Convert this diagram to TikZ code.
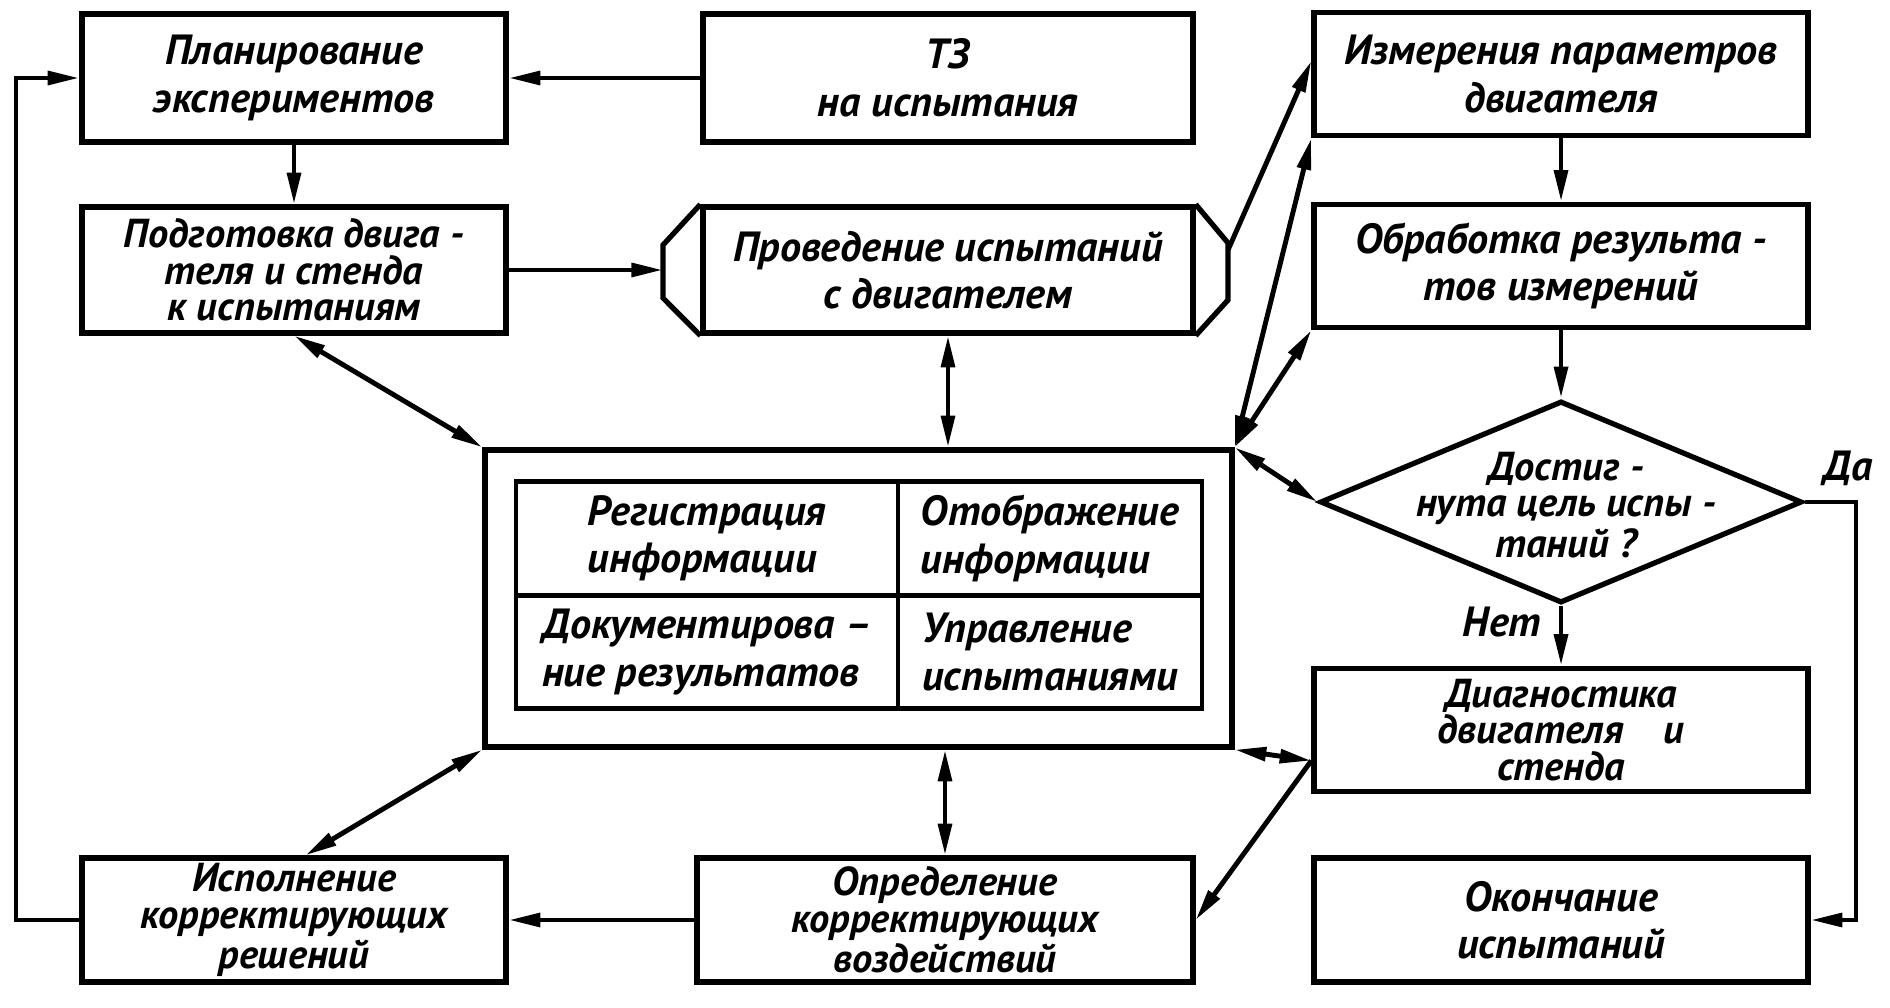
\documentclass[tikz,border=0pt]{standalone}
\usepackage{fontspec}
\setmainfont{PT Sans}
\usetikzlibrary{arrows.meta,shapes.geometric}

\begin{document}
\begin{tikzpicture}[x=0.1mm,y=-0.1mm,
  >={Triangle[length=9pt,width=3.8pt]},
  txt/.style={font=\fontsize{12}{13.5}\selectfont\bfseries\itshape,align=center,inner sep=0pt},
  tight/.style={font=\fontsize{11.5}{10.4}\selectfont\bfseries\itshape},
  blk/.style={txt,draw,line width=1.5pt,minimum width=#1},
  blk/.default=42.4mm,
  cell/.style={txt,draw,line width=1.3pt,align=left,minimum height=11.35mm},
  arr/.style={line width=1.4pt,->},
  darr/.style={line width=1.4pt,<->}]
  \useasboundingbox (0,0) rectangle (1890,1007);

  \node[blk,minimum height=12.8mm] (plan) at (294,78) {Планирование\\экспериментов};
  \node[blk=49mm,minimum height=12.8mm] (tz) at (948,78) {ТЗ\\на испытания};
  \node[blk=49.4mm,minimum height=12.3mm] (izm) at (1561,74) {Измерения параметров\\двигателя};

  \node[blk,tight,minimum height=12.6mm] (podg) at (294,270) {Подготовка двига -\\теля и стенда\\к испытаниям};
  \node[blk=49mm,minimum height=12.6mm] (prov) at (948,270) {Проведение испытаний\\с двигателем};
  \draw[line width=1.5pt] (prov.north west) -- (663,245) -- (663,298) -- (prov.south west);
  \draw[line width=1.5pt] (prov.north east) -- (1228,243) -- (1228,300) -- (prov.south east);
  \coordinate (provL) at (663,270);
  \coordinate (provR) at (1228,250);
  \node[blk=49.4mm,minimum height=12.3mm] (obr) at (1561,266) {Обработка результа -\\тов измерений};

  \node[diamond,draw,line width=1.5pt,aspect=2.39,inner sep=0pt,
        minimum width=48.2mm,minimum height=20.2mm] (goal) at (1561,502) {};
  \node[txt,tight] (goaltxt) at (1566,505) {Достиг -\\нута цель испы -\\таний ?};
  \node[txt] (da) at (1848,468) {Да};
  \node[txt] (net) at (1502,622) {Нет};

  \node[draw,line width=1.5pt,minimum width=74.7mm,minimum height=29.7mm] (cent) at (858.5,598.5) {};
  \node[cell,minimum width=38.2mm] (reg) at (707,538.5) {Регистрация\\информации};
  \node[cell,minimum width=30.4mm] (otob) at (1050,538.5) {Отображение\\информации};
  \node[cell,minimum width=38.2mm] (dok) at (707,652) {Документирова --\\ние результатов};
  \node[cell,minimum width=30.4mm] (upr) at (1050,652) {Управление\\испытаниями};

  \node[blk=49.4mm,tight,minimum height=12.3mm] (diag) at (1561,730) {Диагностика\\двигателя\quad и\\стенда};
  \node[blk=49.4mm,minimum height=12.4mm] (okon) at (1561,920) {Окончание\\испытаний};
  \node[blk,tight,minimum height=12.4mm] (isp) at (294,920) {Исполнение\\корректирующих\\решений};
  \node[blk=49.6mm,tight,minimum height=12.4mm] (opr) at (945,920) {Определение\\корректирующих\\воздействий};

  \coordinate (lft) at (16,500);
  \coordinate (rgt) at (1856,700);

  \draw[arr] (tz.west) -- (plan.east);
  \draw[arr] (plan.south) -- (podg.north);
  \draw[arr] (podg.east) -- (provL);
  \draw[arr] (provR) -- (izm.177);
  \draw[arr] (izm.south) -- (obr.north);
  \draw[arr] (obr.south) -- (goal.north);
  \draw[arr] (goal.south) -- (diag.north);
  \draw[arr] (goal.east) -| (rgt) |- (okon.east);
  \draw[darr] (cent.north east) -- (izm.south west);
  \draw[darr] (cent.north east) -- (obr.south west);
  \draw[darr] (cent.north east) -- (goal.west);
  \draw[darr] (cent.south east) -- (diag.187);
  \draw[arr] (diag.187) -- (opr.east);
  \draw[darr] (podg.south) -- (cent.north west);
  \draw[darr] (prov.south) -- (prov.south |- cent.north);
  \draw[darr] (opr.north) -- (opr.north |- cent.south);
  \draw[darr] (cent.south west) -- (isp.80);
  \draw[arr] (opr.west) -- (isp.east);
  \draw[arr] (isp.west) -| (lft) |- (plan.west);
\end{tikzpicture}
\end{document}
